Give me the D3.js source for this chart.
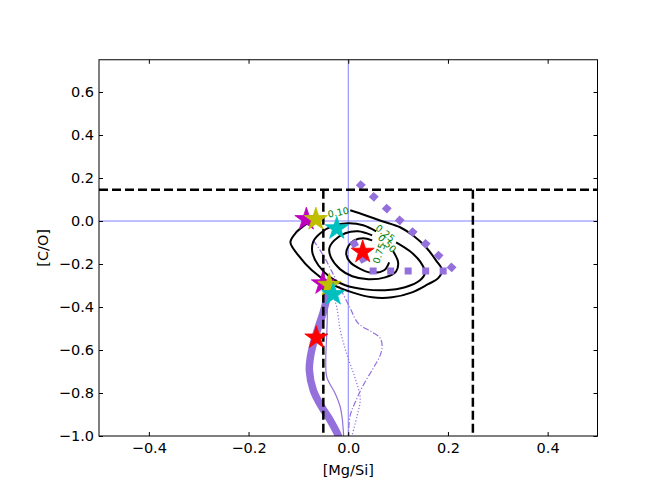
<!DOCTYPE html>
<html>
<head>
<meta charset="utf-8">
<script src="https://cdn.jsdelivr.net/npm/d3@7"></script>
<style>
  body { margin: 0; background: #fff; }
  text { font-family: "DejaVu Sans", sans-serif; }
</style>
</head>
<body>
<div id="chart"></div>
<script>
// axis ticks
const xTicks = [-0.4, -0.2, 0.0, 0.2, 0.4];
const yTicks = [-1.0, -0.8, -0.6, -0.4, -0.2, 0.0, 0.2, 0.4, 0.6];

// cut lines
const cutY = 0.145;
const cutX = [-0.05, 0.25];

// contour levels and their (open) paths, [Mg/Si, C/O]
const contourLevels = ["0.10", "0.25", "0.50", "0.75"];
const contour10 = [[0.004,0.050],[0.034,0.027],[0.068,-0.001],[0.104,-0.029],[0.132,-0.071],[0.156,-0.122],[0.176,-0.183],[0.188,-0.229],[0.180,-0.267],[0.160,-0.294],[0.128,-0.332],[0.088,-0.355],[0.048,-0.355],[0.008,-0.332],[-0.040,-0.285],[-0.073,-0.229],[-0.100,-0.160],[-0.116,-0.099],[-0.106,-0.057],[-0.090,-0.024],[-0.072,0.003],[-0.048,0.022]];
const contour25 = [[0.096,-0.099],[0.124,-0.141],[0.144,-0.188],[0.154,-0.239],[0.144,-0.276],[0.114,-0.308],[0.074,-0.322],[0.034,-0.318],[-0.006,-0.299],[-0.036,-0.262],[-0.060,-0.206],[-0.072,-0.146],[-0.070,-0.095],[-0.056,-0.057],[-0.032,-0.024],[0.000,-0.011],[0.030,-0.020],[0.056,-0.048]];
const contour50 = [[0.090,-0.141],[0.100,-0.192],[0.096,-0.234],[0.074,-0.262],[0.040,-0.271],[0.008,-0.257],[-0.016,-0.225],[-0.034,-0.173],[-0.038,-0.127],[-0.028,-0.090],[-0.006,-0.057],[0.020,-0.048],[0.048,-0.067]];
const contour75 = [[0.082,-0.192],[0.072,-0.229],[0.044,-0.239],[0.022,-0.220],[0.004,-0.192],[-0.004,-0.155],[0.000,-0.118],[0.012,-0.090],[0.030,-0.080],[0.048,-0.090]];
const contourLabelPos = [[-0.020,0.040],[0.074,-0.057],[0.078,-0.104],[0.062,-0.150]];
const contourLabelAngle = [-12, 38, 45, -72];

// purple tracks
const dottedTrack = [[0.020,0.178],[0.215,-0.232],[0.042,-0.232],[0.006,-0.080]];
const thickTrack = [[-0.048,-0.285],[-0.042,-0.336],[-0.049,-0.415],[-0.060,-0.494],[-0.070,-0.569],[-0.076,-0.634],[-0.078,-0.695],[-0.070,-0.788],[-0.053,-0.866],[-0.036,-0.927],[-0.022,-0.988],[-0.018,-1.01]];
const thinSolid = [[-0.045,-0.290],[-0.042,-0.400],[-0.043,-0.520],[-0.045,-0.640],[-0.043,-0.726],[-0.026,-0.803],[-0.016,-0.865],[-0.012,-0.920],[-0.009,-1.01]];
const thinDotted = [[-0.050,-0.276],[-0.036,-0.322],[-0.024,-0.392],[-0.016,-0.508],[-0.002,-0.625],[0.014,-0.732],[0.024,-0.825],[0.018,-0.904],[0.006,-1.01]];
const thinDashDot = [[-0.070,-0.090],[-0.050,-0.160],[-0.032,-0.239],[-0.016,-0.313],[0.004,-0.406],[0.020,-0.476],[0.048,-0.517],[0.064,-0.545],[0.068,-0.583],[0.064,-0.625],[0.050,-0.685],[0.030,-0.764],[0.014,-0.843],[0.004,-0.904],[0.000,-1.01]];

// stars
const starX = [-0.084, -0.065, -0.023, 0.029, -0.051, -0.038, -0.030, -0.064];
const starY = [0.008, 0.008, -0.035, -0.144, -0.291, -0.298, -0.341, -0.543];
const starColor = ["#bf00bf", "#bfbf00", "#00bfbf", "#ff0000", "#bf00bf", "#bfbf00", "#00bfbf", "#ff0000"];

const W = 664, H = 498;
const margin = { top: 59.75, right: 66.5, bottom: 62, left: 99 };
const width = W - margin.left - margin.right,
    height = H - margin.top - margin.bottom;

const svg = d3.select("#chart")
    .append("svg")
    .attr("width", W)
    .attr("height", H);

const g = svg.append("g")
    .attr("transform", `translate(${margin.left},${margin.top})`);

const x = d3.scaleLinear().domain([-0.5, 0.5]).range([0, width]);
const y = d3.scaleLinear().domain([-1.0, 0.75]).range([height, 0]);

g.append("clipPath").attr("id", "clip")
    .append("rect").attr("width", width).attr("height", height);

const plot = g.append("g").attr("clip-path", "url(#clip)");

const line = d3.line().x(d => x(d[0])).y(d => y(d[1]));
const smooth = d3.line().x(d => x(d[0])).y(d => y(d[1])).curve(d3.curveCatmullRom);

// reference lines at zero
plot.append("line")
    .attr("x1", 0).attr("x2", width)
    .attr("y1", y(0)).attr("y2", y(0))
    .attr("stroke", "#8080ff").attr("stroke-width", 1);
plot.append("line")
    .attr("x1", x(0)).attr("x2", x(0))
    .attr("y1", 0).attr("y2", height)
    .attr("stroke", "#8080ff").attr("stroke-width", 1);

// purple tracks
const purple = "#9370db";
plot.append("path").datum(thinSolid)
    .attr("d", smooth).attr("fill", "none")
    .attr("stroke", purple).attr("stroke-width", 1.2);
plot.append("path").datum(thinDotted)
    .attr("d", smooth).attr("fill", "none")
    .attr("stroke", purple).attr("stroke-width", 1.2)
    .attr("stroke-dasharray", "1.2,2");
plot.append("path").datum(thinDashDot)
    .attr("d", smooth).attr("fill", "none")
    .attr("stroke", purple).attr("stroke-width", 1.2)
    .attr("stroke-dasharray", "6,2,1.2,2");
plot.append("path").datum(thickTrack)
    .attr("d", smooth).attr("fill", "none")
    .attr("stroke", purple).attr("stroke-width", 7.5)
    .attr("stroke-linecap", "round");

// contours
[contour10, contour25, contour50, contour75].forEach(c => {
    plot.append("path").datum(c)
        .attr("d", smooth).attr("fill", "none")
        .attr("stroke", "black").attr("stroke-width", 2);
});
contourLevels.forEach((lab, i) => {
    const p = contourLabelPos[i];
    plot.append("text")
        .attr("transform", `translate(${x(p[0])},${y(p[1])}) rotate(${contourLabelAngle[i]})`)
        .attr("text-anchor", "middle")
        .attr("dy", "0.35em")
        .style("font-size", "9.5px")
        .style("fill", "#008000")
        .text(lab);
});

// dotted track with square dots, drawn over the contours
plot.append("path").datum(dottedTrack)
    .attr("d", line).attr("fill", "none")
    .attr("stroke", purple).attr("stroke-width", 7)
    .attr("stroke-dasharray", "7,10.5");

// dashed cut lines
plot.append("line")
    .attr("x1", 0).attr("x2", width)
    .attr("y1", y(cutY)).attr("y2", y(cutY))
    .attr("stroke", "black").attr("stroke-width", 2.5)
    .attr("stroke-dasharray", "9,4");
cutX.forEach(cx => {
    plot.append("line")
        .attr("x1", x(cx)).attr("x2", x(cx))
        .attr("y1", y(cutY)).attr("y2", height)
        .attr("stroke", "black").attr("stroke-width", 2.5)
        .attr("stroke-dasharray", "9,4");
});

// stars
const star = d3.symbol().type(d3.symbolStar).size(165);
starX.forEach((sx, i) => {
    g.append("path")
        .attr("d", star)
        .attr("transform", `translate(${x(sx)},${y(starY[i])})`)
        .attr("fill", starColor[i])
        .attr("stroke", starColor[i]).attr("stroke-width", 0.8);
});

// axes
const fmt = d3.format(".1f");
g.append("g")
    .attr("transform", `translate(0,${height})`)
    .call(d3.axisBottom(x).tickValues(xTicks).tickFormat(fmt).tickSizeInner(-4).tickSizeOuter(0).tickPadding(7));
g.append("g")
    .call(d3.axisLeft(y).tickValues(yTicks).tickFormat(fmt).tickSizeInner(-4).tickSizeOuter(0).tickPadding(5));
g.append("g")
    .call(d3.axisTop(x).tickValues(xTicks).tickFormat("").tickSizeInner(-4).tickSizeOuter(0));
g.append("g")
    .attr("transform", `translate(${width},0)`)
    .call(d3.axisRight(y).tickValues(yTicks).tickFormat("").tickSizeInner(-4).tickSizeOuter(0));
g.selectAll(".domain").remove();
g.selectAll(".tick line").attr("stroke", "black");
g.selectAll(".tick text").style("font-size", "14.5px").style("fill", "black");

g.append("rect")
    .attr("width", width).attr("height", height)
    .attr("fill", "none").attr("stroke", "black").attr("stroke-width", 1);

// axis labels
svg.append("text")
    .attr("x", margin.left + width / 2)
    .attr("y", 475)
    .attr("text-anchor", "middle")
    .style("font-size", "14.5px")
    .text("[Mg/Si]");
svg.append("text")
    .attr("transform", `translate(48,${margin.top + height / 2}) rotate(-90)`)
    .attr("text-anchor", "middle")
    .style("font-size", "14.5px")
    .text("[C/O]");
</script>
</body>
</html>
